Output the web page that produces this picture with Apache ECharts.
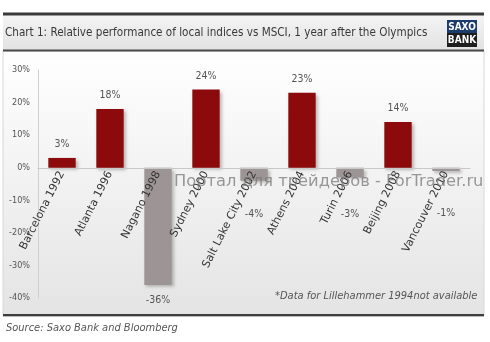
<!DOCTYPE html>
<html>
<head>
<meta charset="utf-8">
<script src="https://cdn.jsdelivr.net/npm/echarts@6/dist/echarts.min.js"></script>
<style>
html,body{margin:0;padding:0;background:#fff;}
#c{width:490px;height:342px;}
</style>
</head>
<body>
<div id="c"></div>
<script>
const categories = ['Barcelona 1992','Atlanta 1996','Nagano 1998','Sydney 2000','Salt Lake City 2002','Athens 2004','Turin 2006','Beijing 2008','Vancouver 2010'];
const values = [3, 18, -36, 24, -4, 23, -3, 14, -1];
const isWinter = [false, false, true, false, true, false, true, false, true];
const yTicks = {min: -40, max: 30, interval: 10};
const titleText = 'Chart 1: Relative performance of local indices vs MSCI, 1 year after the Olympics';
const sourceText = 'Source: Saxo Bank and Bloomberg';
const noteText = '*Data for Lillehammer 1994not available';
const watermarkText = 'Портал для трейдеров - ForTrader.ru';

const RED = '#8c0a0c';
const GRAY = '#9d9595';
const gridTop = 70, gridBottom = 44;
const pxPerUnit = (342 - gridTop - gridBottom) / (yTicks.max - yTicks.min);
const zeroOffset = -Math.round((0 - yTicks.min) * pxPerUnit);

const data = values.map((v, i) => {
  let label;
  if (v >= 0) {
    label = {position: 'top', distance: 8};
  } else if (v <= -10) {
    label = {position: 'bottom', distance: 10};
  } else {
    label = {position: 'bottom', distance: Math.round((v + 12.5) * pxPerUnit)};
  }
  return {
    value: v,
    itemStyle: {color: isWinter[i] ? GRAY : RED},
    label: label
  };
});

const chart = echarts.init(document.getElementById('c'), null, {renderer: 'canvas'});
chart.setOption({
  animation: false,
  backgroundColor: '#fff',
  graphic: [
    {type: 'rect', z: -10, shape: {x: 3, y: 51, width: 481, height: 264},
     style: {fill: new echarts.graphic.LinearGradient(0, 0, 0, 1, [
       {offset: 0, color: '#ffffff'}, {offset: 1, color: '#e4e4e4'}]),
       stroke: '#d8d8d8', lineWidth: 1}},
    {type: 'rect', z: -10, shape: {x: 3, y: 15, width: 481, height: 35},
     style: {fill: new echarts.graphic.LinearGradient(0, 0, 0, 1, [
       {offset: 0, color: '#f4f4f4'}, {offset: 1, color: '#e2e2e2'}])}},
    {type: 'rect', shape: {x: 3, y: 12.5, width: 481, height: 3}, style: {fill: '#3a3a3a'}},
    {type: 'rect', shape: {x: 3, y: 49.5, width: 481, height: 2}, style: {fill: '#4a4a4a'}},
    {type: 'rect', shape: {x: 3, y: 314, width: 481, height: 2}, style: {fill: '#3e3e3e'}},
    {type: 'rect', shape: {x: 3, y: 316, width: 481, height: 1}, style: {fill: '#bbbbbb'}},
    {type: 'text', x: 5, y: 33,
     style: {text: titleText, fill: '#383838', verticalAlign: 'middle', font: '11.6px "DejaVu Sans Condensed", sans-serif'}},
    {type: 'rect', shape: {x: 447, y: 20, width: 30, height: 13}, style: {fill: '#1c3d6c'}},
    {type: 'rect', shape: {x: 447, y: 33, width: 30, height: 14}, style: {fill: '#1e1e1e'}},
    {type: 'text', x: 462, y: 27, style: {text: 'SAXO', fill: '#fff', align: 'center', verticalAlign: 'middle', font: 'bold 10px "DejaVu Sans Condensed", sans-serif'}},
    {type: 'text', x: 462, y: 40.5, style: {text: 'BANK', fill: '#fff', align: 'center', verticalAlign: 'middle', font: 'bold 10px "DejaVu Sans Condensed", sans-serif'}},
    {type: 'text', x: 275, y: 296, style: {text: noteText, fill: '#555', verticalAlign: 'middle', font: 'italic 11px "DejaVu Sans Condensed", sans-serif'}},
    {type: 'text', x: 6, y: 328, style: {text: sourceText, fill: '#555', verticalAlign: 'middle', font: 'italic 11px "DejaVu Sans Condensed", sans-serif'}},
    {type: 'text', x: 174, y: 182, z: 100, style: {text: watermarkText, fill: 'rgba(120,120,120,0.75)', verticalAlign: 'middle', font: '16.3px "DejaVu Sans", sans-serif'}}
  ],
  grid: {left: 38, right: 20, top: gridTop, bottom: gridBottom, containLabel: false, outerBoundsMode: 'none'},
  xAxis: {
    type: 'category',
    data: categories,
    position: 'bottom',
    offset: zeroOffset,
    z: 5,
    axisLine: {onZero: false, lineStyle: {color: '#c8c8c8', width: 1}},
    axisTick: {show: false},
    axisLabel: {rotate: 63, margin: 4, color: '#333', fontSize: 11, fontFamily: '"DejaVu Sans", sans-serif', interval: 0}
  },
  yAxis: {
    type: 'value',
    min: yTicks.min, max: yTicks.max, interval: yTicks.interval,
    axisLine: {show: true, lineStyle: {color: '#cfcfcf'}},
    axisTick: {show: false},
    splitLine: {show: false},
    axisLabel: {formatter: v => v + '%', color: '#555', fontSize: 9, margin: 8, fontFamily: '"DejaVu Sans Condensed", sans-serif'}
  },
  series: [{
    type: 'bar',
    data: data,
    barWidth: '57%',
    z: 2,
    itemStyle: {shadowBlur: 3, shadowOffsetX: 2, shadowOffsetY: 2, shadowColor: 'rgba(0,0,0,0.25)'},
    label: {show: true, formatter: p => Math.round(p.value) + '%', color: '#555', fontSize: 10.5, fontFamily: '"DejaVu Sans Condensed", sans-serif'}
  }]
});
</script>
</body>
</html>
